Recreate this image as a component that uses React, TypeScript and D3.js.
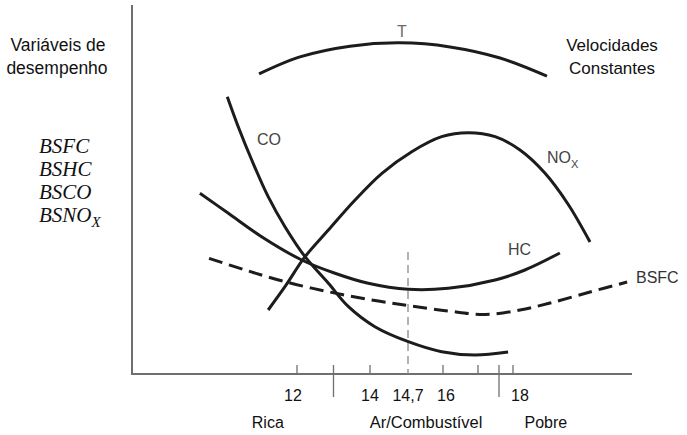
import React from "react";
import * as d3 from "d3";

// Air/fuel ratio (x) vs. relative performance level (y, 0–100, arbitrary units)
const tAfr = [10.96, 12.08, 13.45, 14.55, 16.2, 17.63, 18.97];
const tVal = [81.1, 85.7, 88.6, 89.5, 88.4, 85.4, 80.5];

const coAfr = [10.09, 10.39, 10.76, 11.21, 11.67, 12.22, 12.86, 13.41, 14.09, 14.71, 15.95, 16.91, 17.86];
const coVal = [74.95, 66.84, 57.84, 47.92, 39.81, 31.7, 24.51, 18.19, 12.78, 8.73, 6.03, 5.14, 5.95];

const hcAfr = [9.34, 10.12, 11.03, 12.13, 13.04, 13.95, 14.71, 16.15, 17.49, 18.34, 19.34];
const hcVal = [48.84, 43.43, 37.11, 30.81, 27.22, 24.51, 22.89, 23.16, 25.41, 28.11, 32.7];

const noxAfr = [11.21, 11.67, 12.22, 12.86, 13.59, 14.22, 14.84, 15.95, 16.72, 17.49, 18.2, 18.91, 19.57, 20.2];
const noxVal = [17.3, 23.59, 31.7, 38.92, 47.03, 54.24, 60.08, 64.14, 65.22, 64.14, 60.54, 54.32, 45.95, 35.68];

const bsfcAfr = [9.59, 10.58, 11.67, 12.86, 14.03, 14.71, 16.15, 17.2, 18.2, 19.06, 20.2, 21.26];
const bsfcVal = [31.27, 28.11, 24.95, 22.24, 20.0, 18.51, 17.03, 16.08, 17.3, 19.19, 22.16, 24.86];

// Axis marks
const minorTicks = [12, 14, 16, 17, 18];
const regionTicks = [13, 17.6];
const tickLabels = ["12", "14", "14,7", "16", "18"];
const tickLabelValues = [12, 14, 14.7, 16, 18];
const stoich = 14.7;
const stoichTop = 33;

const yLabels = ["BSFC", "BSHC", "BSCO", "BSNO"];

const W = 687;
const H = 435;

// Non-uniform air/fuel axis as printed
const x = d3.scaleLinear().domain([12, 14, 14.7, 16, 18]).range([297, 370, 408, 443, 513]);
const y = d3.scaleLinear().domain([0, 100]).range([374, 4]);

const line = d3
  .line<[number, number]>()
  .x((d) => x(d[0]))
  .y((d) => y(d[1]))
  .curve(d3.curveCatmullRom.alpha(0.5));

const zip = (a: number[], b: number[]) => a.map((v, i) => [v, b[i]] as [number, number]);

const sans = "'Liberation Sans', Arial, sans-serif";
const serif = "'Liberation Serif', 'Times New Roman', serif";
const ink = "#1c1c1c";
const axisGray = "#6f6f6f";

export default function App() {
  const series = [
    { d: zip(tAfr, tVal), dash: undefined },
    { d: zip(coAfr, coVal), dash: undefined },
    { d: zip(hcAfr, hcVal), dash: undefined },
    { d: zip(noxAfr, noxVal), dash: undefined },
    { d: zip(bsfcAfr, bsfcVal), dash: "14 7" },
  ];
  const axisY = y(0);
  const labelShift = (i: number) => (i === 0 ? -4 : i === tickLabels.length - 1 ? 7 : i === 3 ? 3 : 0);
  return (
    <div style={{ position: "absolute", left: 0, top: 0 }}>
      <svg width={W} height={H} style={{ display: "block", background: "#fff" }}>
        {/* axes */}
        <line x1={132} x2={132} y1={5} y2={axisY + 1} stroke={axisGray} strokeWidth={2} />
        <line x1={131} x2={632} y1={axisY} y2={axisY} stroke={axisGray} strokeWidth={2} />
        {minorTicks.map((t) => (
          <line key={t} x1={x(t)} x2={x(t)} y1={axisY - 9} y2={axisY} stroke={axisGray} strokeWidth={1.3} />
        ))}
        {regionTicks.map((t) => (
          <line key={t} x1={x(t)} x2={x(t)} y1={axisY - 9} y2={axisY + 23} stroke={axisGray} strokeWidth={1.3} />
        ))}
        <line
          x1={x(stoich)}
          x2={x(stoich)}
          y1={y(stoichTop)}
          y2={axisY}
          stroke="#8a8a8a"
          strokeWidth={1.3}
          strokeDasharray="8 5"
        />

        {/* curves */}
        {series.map((s, i) => (
          <path
            key={i}
            d={line(s.d) || ""}
            fill="none"
            stroke={ink}
            strokeWidth={3}
            strokeDasharray={s.dash}
          />
        ))}

        {/* curve labels */}
        <g fontFamily={sans} fontSize={16} fill="#444">
          <text x={402} y={37} textAnchor="middle" fill="#6a6a6a">T</text>
          <text x={269} y={145} textAnchor="middle">CO</text>
          <text x={547} y={163}>
            NO<tspan fontSize={11} dy={5}>X</tspan>
          </text>
          <text x={508} y={255}>HC</text>
          <text x={636} y={283} fill="#333">BSFC</text>
        </g>

        {/* tick labels */}
        <g fontFamily={sans} fontSize={16} fill="#111" textAnchor="middle">
          {tickLabels.map((t, i) => (
            <text key={t} x={x(tickLabelValues[i]) + labelShift(i)} y={401}>
              {t}
            </text>
          ))}
          <text x={x(11.2)} y={428}>Rica</text>
          <text x={x(15.37)} y={428} fontSize={16.5}>Ar/Combustível</text>
          <text x={x(18.94)} y={428}>Pobre</text>
        </g>

        {/* side titles */}
        <g fontFamily={sans} fontSize={17.5} fill="#111" textAnchor="middle">
          <text x={58} y={51}>Variáveis de</text>
          <text x={57} y={74}>desempenho</text>
        </g>
        <g fontFamily={sans} fontSize={17} fill="#111" textAnchor="middle">
          <text x={612} y={51}>Velocidades</text>
          <text x={612} y={74}>Constantes</text>
        </g>

        <g fontFamily={serif} fontStyle="italic" fontSize={21} fill="#111">
          {yLabels.map((l, i) => (
            <text key={l} x={39} y={153 + i * 23}>
              {l}
              {i === 3 && (
                <tspan fontSize={15} dy={5}>
                  X
                </tspan>
              )}
            </text>
          ))}
        </g>
      </svg>
    </div>
  );
}
